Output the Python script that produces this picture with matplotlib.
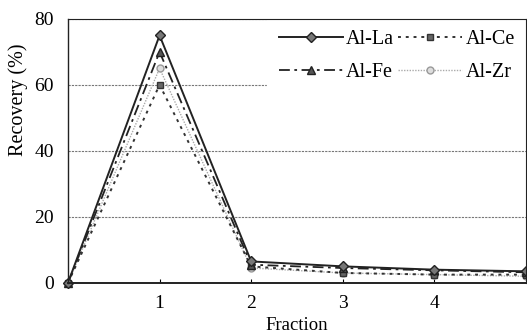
import numpy as np
import matplotlib.pyplot as plt

plt.rcParams['font.family'] = ['Liberation Serif', 'DejaVu Serif']

# ---------- Data ----------
fraction = [0, 1, 2, 3, 4, 5]
al_la = [0, 75, 6.5, 5, 4, 3.5]
al_ce = [0, 60, 5, 3, 2.5, 2.5]
al_fe = [0, 70, 5.5, 4.5, 3.8, 3.2]
al_zr = [0, 65, 4.5, 3, 2.5, 2]

# ---------- Figure ----------
fig = plt.figure(figsize=(5.27, 3.32), dpi=100)
ax = fig.add_axes([0.129, 0.148, 0.869, 0.795])

l_la, = ax.plot(fraction, al_la, color='#222222', lw=1.4, ls='-', marker='D', ms=5,
                mfc='#777777', mec='#222222', label='Al-La', clip_on=False, zorder=5)
l_ce, = ax.plot(fraction, al_ce, color='#333333', lw=1.4, ls=(0, (1.5, 2.5)), marker='s', ms=4,
                mfc='#666666', mec='#333333', label='Al-Ce', clip_on=False, zorder=4)
l_fe, = ax.plot(fraction, al_fe, color='#222222', lw=1.3, ls=(0, (6, 2.5, 1.5, 2.5)), marker='^', ms=6,
                mfc='#555555', mec='#222222', label='Al-Fe', clip_on=False, zorder=4)
l_zr, = ax.plot(fraction, al_zr, color='#aaaaaa', lw=1.0, ls=(0, (1, 1)), marker='o', ms=5,
                mfc='#dddddd', mec='#999999', label='Al-Zr', clip_on=False, zorder=3)

ax.set_xlim(0, 5)
ax.set_ylim(0, 80)
ax.set_xticks([1, 2, 3, 4])
ax.set_yticks([0, 20, 40, 60, 80])
ax.tick_params(axis='x', direction='in', length=3, labelsize=14, pad=9)
ax.tick_params(axis='y', length=0, labelsize=14, pad=10)
ax.yaxis.grid(True, linestyle=(0, (2, 1)), color='#777777', lw=0.8)
ax.set_axisbelow(True)

for s in ['left', 'bottom', 'top', 'right']:
    ax.spines[s].set_color('#222222')
    ax.spines[s].set_zorder(7)
ax.spines['bottom'].set_linewidth(1.4)
ax.spines['left'].set_linewidth(1.0)
ax.spines['top'].set_linewidth(0.8)
ax.spines['right'].set_linewidth(0.8)

ax.set_xlabel('Fraction', fontsize=13.5, labelpad=3)
ax.set_ylabel('Recovery (%)', fontsize=14.5)
ax.yaxis.set_label_coords(-0.087, 0.693)

# row 1: La, Ce ; row 2: Fe, Zr (legend fills column-wise)
leg = ax.legend([l_la, l_fe, l_ce, l_zr], ['Al-La', 'Al-Fe', 'Al-Ce', 'Al-Zr'],
                ncol=2, loc='upper right', bbox_to_anchor=(1, 1), frameon=True,
                fontsize=14.5, handlelength=3.2, columnspacing=0.2, handletextpad=0.15,
                borderaxespad=0, borderpad=0.55, labelspacing=0.7,
                fancybox=False, edgecolor='white', framealpha=1)
leg.set_zorder(6)

fig.savefig('out.png', dpi=100)
